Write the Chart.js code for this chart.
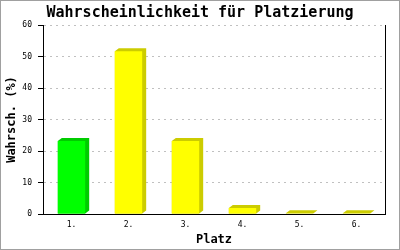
<!DOCTYPE html>
<html>
<head>
<meta charset="utf-8">
<script src="https://cdn.jsdelivr.net/npm/chart.js@4/dist/chart.umd.min.js"></script>
<style>
  body { margin: 0; background: #fff; }
</style>
</head>
<body>
<canvas id="myChart" width="400" height="250"></canvas>
<script>
const places = ['1.', '2.', '3.', '4.', '5.', '6.'];
const chances = [23.2, 51.7, 23.2, 1.9, 0.2, 0.2];
const frontColors = ['#00ff00', '#ffff00', '#ffff00', '#ffff00', '#ffff00', '#ffff00'];
const sideColors = ['#00cc00', '#cccc00', '#cccc00', '#cccc00', '#cccc00', '#cccc00'];
const yTicks = [0, 10, 20, 30, 40, 50, 60];
const chartTitle = 'Wahrscheinlichkeit für Platzierung';

const mono = 'DejaVu Sans Mono';

// dark side/top of each bar, drawn before the bars themselves
const depth = {
  id: 'depth',
  beforeDatasetsDraw(chart) {
    const ctx = chart.ctx;
    const dx = 4, dy = 3;
    chart.getDatasetMeta(0).data.forEach((bar, i) => {
      const l = bar.x - bar.width / 2, r = bar.x + bar.width / 2;
      const t = bar.y, b = bar.base;
      ctx.save();
      ctx.fillStyle = sideColors[i];
      ctx.beginPath();
      ctx.moveTo(l, t);
      ctx.lineTo(l + dx, t - dy);
      ctx.lineTo(r + dx, t - dy);
      ctx.lineTo(r + dx, b - dy);
      ctx.lineTo(r, b);
      ctx.lineTo(l, b);
      ctx.closePath();
      ctx.fill();
      ctx.restore();
    });
  },
  afterDraw(chart) {
    const ctx = chart.ctx;
    const a = chart.chartArea;
    ctx.save();
    // right frame line
    ctx.strokeStyle = '#000';
    ctx.lineWidth = 1;
    ctx.beginPath();
    ctx.moveTo(Math.round(a.right) + 0.5, a.top);
    ctx.lineTo(Math.round(a.right) + 0.5, a.bottom);
    ctx.stroke();
    // image border
    ctx.strokeStyle = '#a0a0a0';
    ctx.strokeRect(0.5, 0.5, chart.width - 1, chart.height - 1);
    // title, centred on the whole image
    ctx.fillStyle = '#000';
    ctx.font = 'bold 15px ' + mono;
    ctx.textAlign = 'center';
    ctx.textBaseline = 'middle';
    ctx.fillText(chartTitle, chart.width / 2, 13);
    ctx.restore();
  }
};

const ctx = document.getElementById('myChart').getContext('2d');
const myChart = new Chart(ctx, {
  type: 'bar',
  data: {
    labels: places,
    datasets: [{
      data: chances,
      backgroundColor: frontColors,
      borderWidth: 0,
      barPercentage: 0.48,
      categoryPercentage: 1
    }]
  },
  options: {
    responsive: false,
    animation: false,
    layout: { padding: { left: 0, right: 15, top: 25, bottom: 0 } },
    plugins: {
      legend: { display: false },
      tooltip: { enabled: false },
      title: { display: false }
    },
    scales: {
      x: {
        afterFit(scale) { scale.height = 36; },
        grid: { display: false, drawTicks: false },
        border: { color: '#000', width: 1 },
        ticks: { color: '#000', font: { family: mono, size: 8 }, padding: 6, maxRotation: 0 },
        title: {
          display: true,
          text: 'Platz',
          color: '#000',
          font: { family: mono, size: 12, weight: 'bold' },
          padding: { top: 0, bottom: 3 }
        }
      },
      y: {
        min: 0,
        max: 60,
        afterFit(scale) { scale.width = 43; },
        afterBuildTicks(scale) { scale.ticks = yTicks.map(v => ({ value: v })); },
        grid: {
          color: '#c0c0c0',
          tickColor: '#000',
          tickLength: 5,
          tickBorderDash: []
        },
        border: { color: '#000', width: 1, dash: [2, 4] },
        ticks: { color: '#000', font: { family: mono, size: 8 }, padding: 6 },
        title: {
          display: true,
          text: 'Wahrsch. (%)',
          color: '#000',
          font: { family: mono, size: 12, weight: 'bold' },
          padding: { top: 5, bottom: 0 }
        }
      }
    }
  },
  plugins: [depth]
});
</script>
</body>
</html>
